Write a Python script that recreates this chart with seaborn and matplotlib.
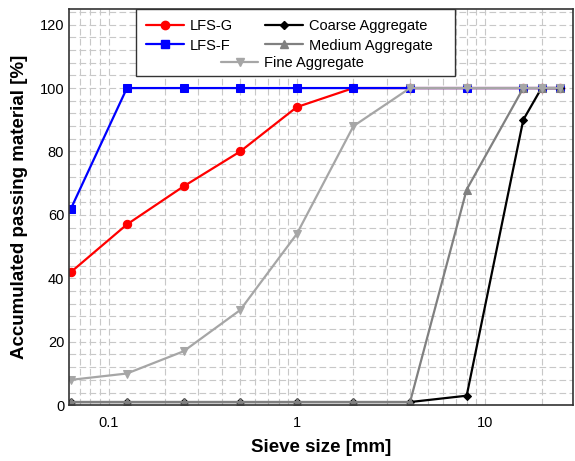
import pandas as pd
import seaborn as sns
import matplotlib.pyplot as plt
from matplotlib.lines import Line2D
from matplotlib.patches import Rectangle
from matplotlib.ticker import MultipleLocator, FuncFormatter, LogLocator

# sieve sizes [mm] and accumulated passing material [%]
sieve = [0.063, 0.125, 0.25, 0.5, 1, 2, 4, 8, 16, 20, 25]
lfs_g = [42, 57, 69, 80, 94, 100, 100, 100, 100, 100, 100]
lfs_f = [62, 100, 100, 100, 100, 100, 100, 100, 100, 100, 100]
coarse = [1, 1, 1, 1, 1, 1, 1, 3, 90, 100, 100]
medium = [1, 1, 1, 1, 1, 1, 1, 68, 100, 100, 100]
fine = [8, 10, 17, 30, 54, 88, 100, 100, 100, 100, 100]

series_names = ["LFS-G", "LFS-F", "Coarse Aggregate", "Medium Aggregate", "Fine Aggregate"]
series_values = [lfs_g, lfs_f, coarse, medium, fine]
colors = ["#ff0000", "#0000ff", "#000000", "#808080", "#a6a6a6"]
markers = ["o", "s", "D", "^", "v"]
msizes = [6, 6, 4, 6, 6]


def build_frame():
    rows = []
    for name, vals in zip(series_names, series_values):
        for s, v in zip(sieve, vals):
            rows.append({"Sieve": s, "Passing": v, "Series": name})
    return pd.DataFrame(rows)


def main():
    sns.set_style("white")
    plt.rcParams["font.family"] = ["Liberation Sans", "DejaVu Sans"]
    plt.rcParams["text.color"] = "black"
    plt.rcParams["axes.labelcolor"] = "black"
    plt.rcParams["xtick.color"] = "black"
    plt.rcParams["ytick.color"] = "black"

    df = build_frame()
    fig, ax = plt.subplots(figsize=(5.75, 4.61), dpi=100)
    fig.subplots_adjust(left=0.12, right=0.997, bottom=0.121, top=0.981)

    for name, col, mk, ms in zip(series_names, colors, markers, msizes):
        sub = df[df["Series"] == name]
        sns.lineplot(data=sub, x="Sieve", y="Passing", color=col, marker=mk,
                     markersize=ms, markeredgecolor=col, linewidth=1.6,
                     sort=False, ax=ax, legend=False)

    ax.set_xscale("log")
    ax.set_xlim(0.0615, 29.5)
    ax.set_ylim(0, 125)
    ax.yaxis.set_major_locator(MultipleLocator(20))
    ax.yaxis.set_minor_locator(MultipleLocator(4))
    ax.xaxis.set_major_locator(LogLocator(base=10))
    ax.xaxis.set_minor_locator(LogLocator(base=10, subs=range(2, 10)))
    ax.xaxis.set_major_formatter(FuncFormatter(lambda v, p: f"{v:g}"))

    ax.tick_params(which="both", direction="in", labelsize=10.5)
    ax.tick_params(which="major", length=6.5, width=1, color="#333333")
    ax.tick_params(which="minor", length=4.3, width=0.8, color="#333333")
    ax.tick_params(axis="x", pad=8)

    ax.grid(True, which="both", linestyle=(0, (6, 3)), linewidth=0.8, color="#c8c8c8")
    ax.set_axisbelow(True)
    for sp in ax.spines.values():
        sp.set_color("#333333")
        sp.set_linewidth(1.2)

    ax.set_xlabel("Sieve size [mm]", fontsize=13.5, fontweight="bold", labelpad=6)
    ax.set_ylabel("Accumulated passing material [%]", fontsize=13.5,
                  fontweight="bold", labelpad=8)

    # legend box drawn by hand: four entries in two columns, "Fine Aggregate" centred below
    box = Rectangle((0.1327, 0.831), 0.633, 0.169, transform=ax.transAxes,
                    facecolor="white", edgecolor="#333333", linewidth=1.0, zorder=4.5)
    ax.add_patch(box)

    handles = [Line2D([], [], color=c, marker=m, markersize=ms, linewidth=1.6)
               for c, m, ms in zip(colors, markers, msizes)]
    leg1 = ax.legend(handles[:4], series_names[:4],
                     ncol=2, loc="upper left", bbox_to_anchor=(0.1327, 1.0),
                     fontsize=10.5, handlelength=2.6, handletextpad=0.4,
                     labelspacing=0.38, columnspacing=2.2, borderpad=0.7,
                     borderaxespad=0.0, frameon=False)
    ax.add_artist(leg1)
    ax.legend([handles[4]], [series_names[4]], loc="center", bbox_to_anchor=(0.443, 0.864),
              fontsize=10.5, handlelength=2.6, handletextpad=0.4, frameon=False,
              borderaxespad=0.0, borderpad=0.0)

    fig.savefig("out.png", dpi=100)
    plt.close(fig)


if __name__ == "__main__":
    main()
